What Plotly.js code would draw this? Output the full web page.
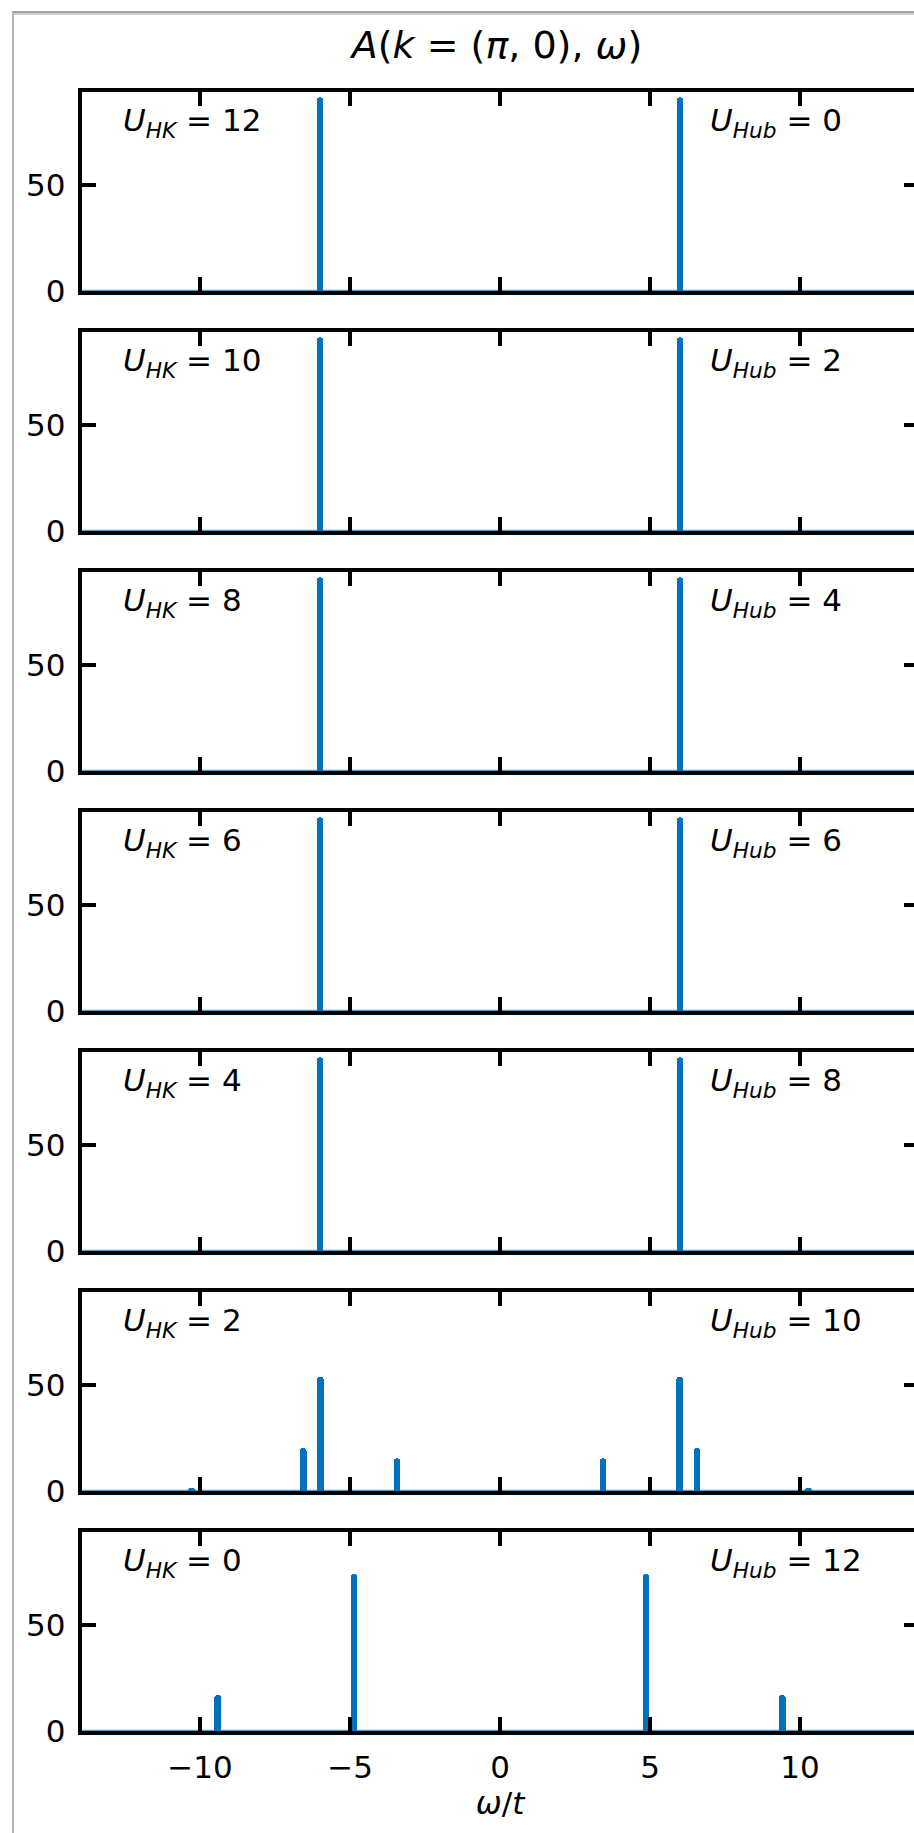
<!DOCTYPE html>
<html>
<head>
<meta charset="utf-8">
<script src="https://cdn.plot.ly/plotly-3.0.1.min.js"></script>
<style>
  html, body { margin: 0; padding: 0; background: #fff; overflow: hidden; width: 914px; height: 1833px; }
  #chart { position: absolute; left: 0; top: 0; width: 960px; height: 1833px; }
  #frame { position: absolute; left: 12px; top: 11px; width: 1400px; height: 2400px;
           border-top: 2px solid #a2a2a2; border-left: 2px solid #b6b6b6; pointer-events: none; }
  #frame::before { content: ""; position: absolute; left: 0; right: 0; top: 0; height: 2px; background: #cfcfcf; }
</style>
</head>
<body>
<div id="chart"></div>
<div id="frame"></div>
<script>
// Spectral function A(k = (pi, 0), omega) for a series of (U_HK, U_Hub) pairs.
// Each panel: pole positions (omega / t) and spectral weights.
const uHK  = [12, 10, 8, 6, 4, 2, 0];
const uHub = [0, 2, 4, 6, 8, 10, 12];

const omegaHK12 = [-6.0, 6.0];
const weightHK12 = [91.5, 91.5];
const omegaHK10 = [-6.0, 6.0];
const weightHK10 = [91.5, 91.5];
const omegaHK8 = [-6.0, 6.0];
const weightHK8 = [91.5, 91.5];
const omegaHK6 = [-6.0, 6.0];
const weightHK6 = [91.5, 91.5];
const omegaHK4 = [-6.0, 6.0];
const weightHK4 = [91.5, 91.5];
const omegaHK2 = [-10.28, -6.56, -5.99, -3.43, 3.43, 5.99, 6.57, 10.28];
const weightHK2 = [1.5, 20.2, 54.0, 15.4, 15.4, 54.0, 20.2, 1.5];
const omegaHK0 = [-9.41, -4.87, 4.87, 9.41];
const weightHK0 = [17.0, 74.2, 74.2, 17.0];

const omegaRange = [-14, 14];
const xTicks = [-10, -5, 0, 5, 10];
const yTicks = [0, 50];

const panelOmega  = [omegaHK12, omegaHK10, omegaHK8, omegaHK6, omegaHK4, omegaHK2, omegaHK0];
const panelWeight = [weightHK12, weightHK10, weightHK8, weightHK6, weightHK4, weightHK2, weightHK0];

// Figure geometry (pixels in a 960 x 1833 paper)
const W = 960, H = 1833;
const SPINE = 4.5;
const xLeft = 80, xRight = 920;            // spine centres
const pxPerUnit = (xRight - xLeft) / (omegaRange[1] - omegaRange[0]);
const pad = SPINE / 2;
const firstBottom = 293.2, panelH = 203.3, step = 240;
const blue = '#0072bd';
const FONT = 'DejaVu Sans, Liberation Sans, sans-serif';
const TXT = 31;

const xDomain = [(xLeft + pad) / W, (xRight - pad) / W];
const xRangeInner = [omegaRange[0] + pad / pxPerUnit, omegaRange[1] - pad / pxPerUnit];

const data = [];
const layout = {
  width: W, height: H,
  margin: {l: 0, r: 0, t: 0, b: 0},
  paper_bgcolor: '#fff', plot_bgcolor: '#fff',
  showlegend: false,
  bargap: 0,
  font: {family: FONT, size: TXT, color: '#000'},
  title: {
    text: '<i>A</i>(<i>k</i> = (<i>π</i>, 0), <i>ω</i>)',
    x: 497 / W, xanchor: 'center', xref: 'paper',
    y: 1 - 31 / H, yanchor: 'top', yref: 'paper',
    font: {family: FONT, size: 38, color: '#000'}
  },
  annotations: []
};

for (let i = 0; i < uHK.length; i++) {
  const n = i + 1;
  const xa = n === 1 ? 'x' : 'x' + n;
  const ya = n === 1 ? 'y' : 'y' + n;
  const bottom = firstBottom + step * i;
  const top = bottom - panelH;
  const yDomain = [1 - (bottom - pad) / H, 1 - (top + pad) / H];

  // zero line of the spectrum along the frequency window
  data.push({
    type: 'scatter', mode: 'lines', xaxis: xa, yaxis: ya,
    x: omegaRange, y: [0, 0],
    line: {color: blue, width: 2.4}, opacity: 0.7, hoverinfo: 'skip'
  });
  // spectral peaks
  data.push({
    type: 'bar', xaxis: xa, yaxis: ya,
    x: panelOmega[i], y: panelWeight[i],
    width: 0.22,
    marker: {color: blue, line: {width: 0}, cornerradius: '50%'},
    hoverinfo: 'skip'
  });

  const isLast = n === uHK.length;
  layout['xaxis' + (n === 1 ? '' : n)] = {
    domain: xDomain, anchor: ya, range: xRangeInner,
    tickmode: 'array', tickvals: xTicks,
    ticks: 'inside', ticklen: 14, tickwidth: 3.6, tickcolor: '#000',
    showline: true, linewidth: SPINE, linecolor: '#000', mirror: 'ticks',
    showgrid: false, zeroline: false,
    showticklabels: isLast,
    tickfont: {family: FONT, size: TXT, color: '#000'},
    ticklabelstandoff: 5,
    title: isLast ? {text: '<i>ω</i>/<i>t</i>', font: {family: FONT, size: TXT, color: '#000'}, standoff: 3} : {text: ''}
  };
  layout['yaxis' + (n === 1 ? '' : n)] = {
    domain: yDomain, anchor: xa, range: [0, 94],
    tickmode: 'array', tickvals: yTicks,
    ticks: 'inside', ticklen: 14, tickwidth: 3.6, tickcolor: '#000',
    showline: true, linewidth: SPINE, linecolor: '#000', mirror: 'ticks',
    showgrid: false, zeroline: false,
    tickfont: {family: FONT, size: TXT, color: '#000'},
    ticklabelstandoff: 6
  };

  const domRef = n === 1 ? '' : n;
  layout.annotations.push({
    xref: 'x' + domRef + ' domain', yref: 'y' + domRef + ' domain',
    x: 0.0464, y: 0.962, xanchor: 'left', yanchor: 'top',
    text: '<i>U</i><sub style="font-style:italic">HK</sub> = ' + uHK[i],
    showarrow: false, font: {family: FONT, size: TXT, color: '#000'}
  });
  layout.annotations.push({
    xref: 'x' + domRef + ' domain', yref: 'y' + domRef + ' domain',
    x: 0.749, y: 0.962, xanchor: 'left', yanchor: 'top',
    text: '<i>U</i><sub style="font-style:italic">Hub</sub> = ' + uHub[i],
    showarrow: false, font: {family: FONT, size: TXT, color: '#000'}
  });
}

Plotly.newPlot('chart', data, layout, {staticPlot: true, displayModeBar: false});
</script>
</body>
</html>
